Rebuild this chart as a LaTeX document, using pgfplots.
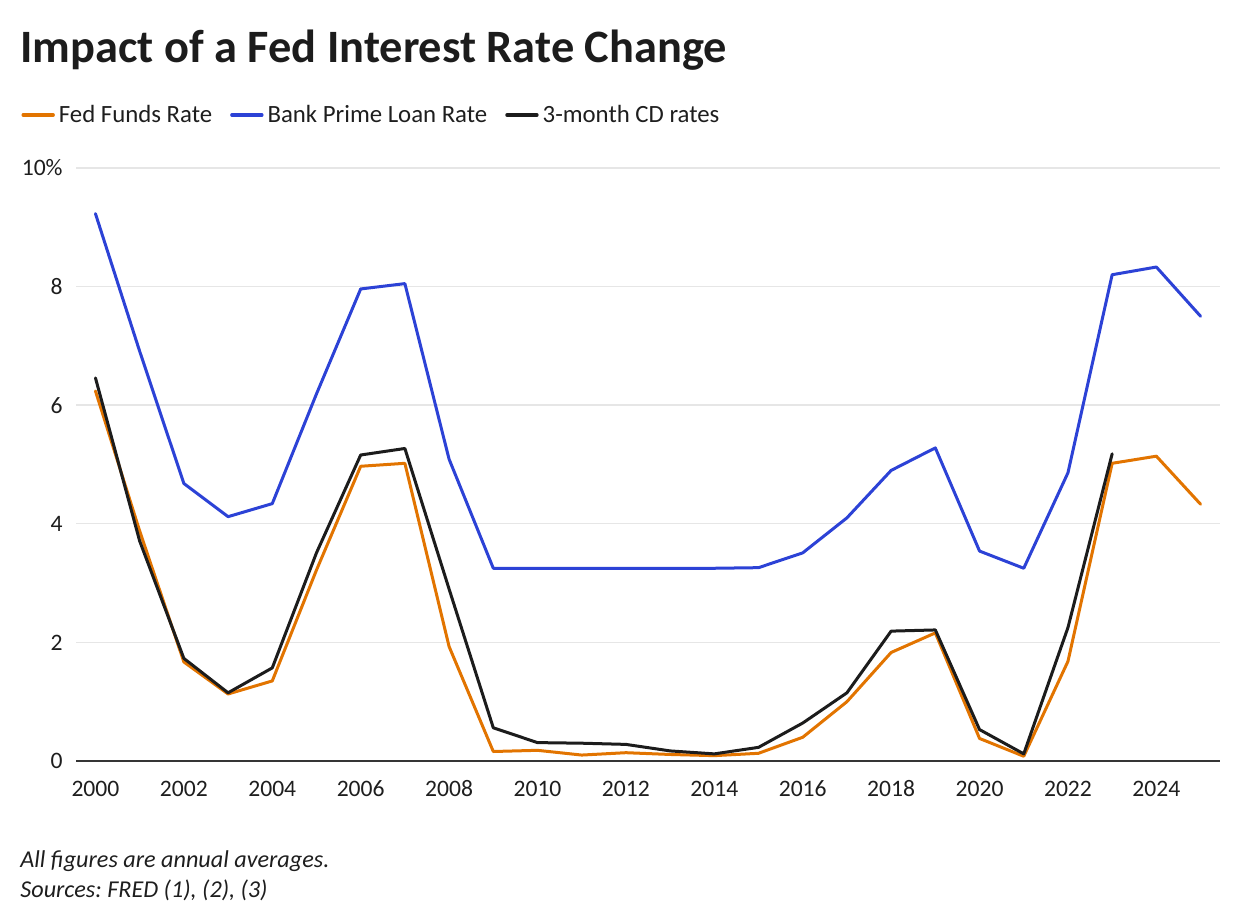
\documentclass[border=0pt]{standalone}
\usepackage{pgfplots}
\pgfplotsset{compat=1.18}
\usepackage{pgfplotstable}
\usepackage{fontspec}
\setmainfont{Carlito}
\frenchspacing

\definecolor{fedorange}{HTML}{E27400}
\definecolor{primeblue}{HTML}{2C42D6}
\definecolor{cdblack}{HTML}{1C1C1C}
\definecolor{gridgray}{HTML}{E6E6E6}
\definecolor{textgray}{HTML}{1E1E1E}

% annual averages, percent
\pgfplotstableread{
year fed prime
2000 6.24 9.23
2001 3.88 6.91
2002 1.67 4.68
2003 1.13 4.12
2004 1.35 4.34
2005 3.22 6.19
2006 4.97 7.96
2007 5.02 8.05
2008 1.93 5.09
2009 0.16 3.25
2010 0.18 3.25
2011 0.10 3.25
2012 0.14 3.25
2013 0.11 3.25
2014 0.09 3.25
2015 0.13 3.26
2016 0.40 3.51
2017 1.00 4.10
2018 1.83 4.90
2019 2.16 5.28
2020 0.38 3.54
2021 0.08 3.25
2022 1.68 4.86
2023 5.02 8.20
2024 5.14 8.33
2025 4.33 7.50
}\ratestable

\pgfplotstableread{
year cd
2000 6.46
2001 3.71
2002 1.73
2003 1.15
2004 1.57
2005 3.51
2006 5.16
2007 5.27
2008 2.90
2009 0.56
2010 0.31
2011 0.30
2012 0.28
2013 0.17
2014 0.12
2015 0.23
2016 0.64
2017 1.15
2018 2.19
2019 2.21
2020 0.53
2021 0.12
2022 2.25
2023 5.18
}\cdtable

\begin{document}
\begin{tikzpicture}
\useasboundingbox (0,0) rectangle (620pt,462pt);

\node[anchor=base west, inner sep=0pt, font=\fontsize{23.2pt}{26pt}\selectfont\bfseries, text=cdblack]
  at (10pt,430.5pt) {Impact of a Fed Interest Rate Change};

\begin{axis}[
  at={(38pt,81.5pt)}, anchor=south west,
  scale only axis,
  width=572pt, height=296.5pt,
  xmin=1999.56, xmax=2025.44,
  ymin=0, ymax=10,
  axis line style={draw=none},
  tick style={draw=none},
  xtick={2000,2002,...,2024},
  xticklabels={2000,2002,2004,2006,2008,2010,2012,2014,2016,2018,2020,2022,2024},
  ytick={2,4,6,8,10},
  yticklabels={2,4,6,8,10\%},
  extra y ticks={0},
  extra y tick labels={0},
  extra y tick style={grid style={color=textgray!90, line width=1pt}},
  ymajorgrids,
  grid style={color=gridgray, line width=0.7pt},
  ticklabel style={font=\fontsize{11.8pt}{14pt}\selectfont, text=textgray, inner sep=0pt},
  xticklabel style={anchor=base, yshift=-18pt},
  yticklabel style={anchor=base east, xshift=-6.5pt, yshift=-4pt},
  legend columns=3,
  legend style={at={(-0.048,1.0894)}, anchor=west, draw=none, fill=none,
    inner sep=0pt, font=\fontsize{12.4pt}{14pt}\selectfont, text=textgray,
    nodes={inner sep=0pt}, column sep=2pt,
    /tikz/every even column/.append style={column sep=9pt}},
  legend cell align=left,
  legend image code/.code={\draw[#1, line width=1.7pt, line cap=round] (0pt,0pt) -- (15pt,0pt);},
  every axis plot/.append style={line width=1.5pt, line join=round, line cap=round},
]
\addplot[color=fedorange] table[x=year, y=fed] {\ratestable};
\addlegendentry{Fed Funds Rate}
\addplot[color=primeblue] table[x=year, y=prime] {\ratestable};
\addlegendentry{Bank Prime Loan Rate}
\addplot[color=cdblack] table[x=year, y=cd] {\cdtable};
\addlegendentry{3-month CD rates}
\end{axis}

\node[anchor=base west, inner sep=0pt, font=\fontsize{12.1pt}{15pt}\selectfont\itshape, text=textgray]
  at (10pt,28pt) {All figures are annual averages.};
\node[anchor=base west, inner sep=0pt, font=\fontsize{12.1pt}{15pt}\selectfont\itshape, text=textgray]
  at (10pt,13pt) {Sources: FRED (1), (2), (3)};
\end{tikzpicture}
\end{document}
